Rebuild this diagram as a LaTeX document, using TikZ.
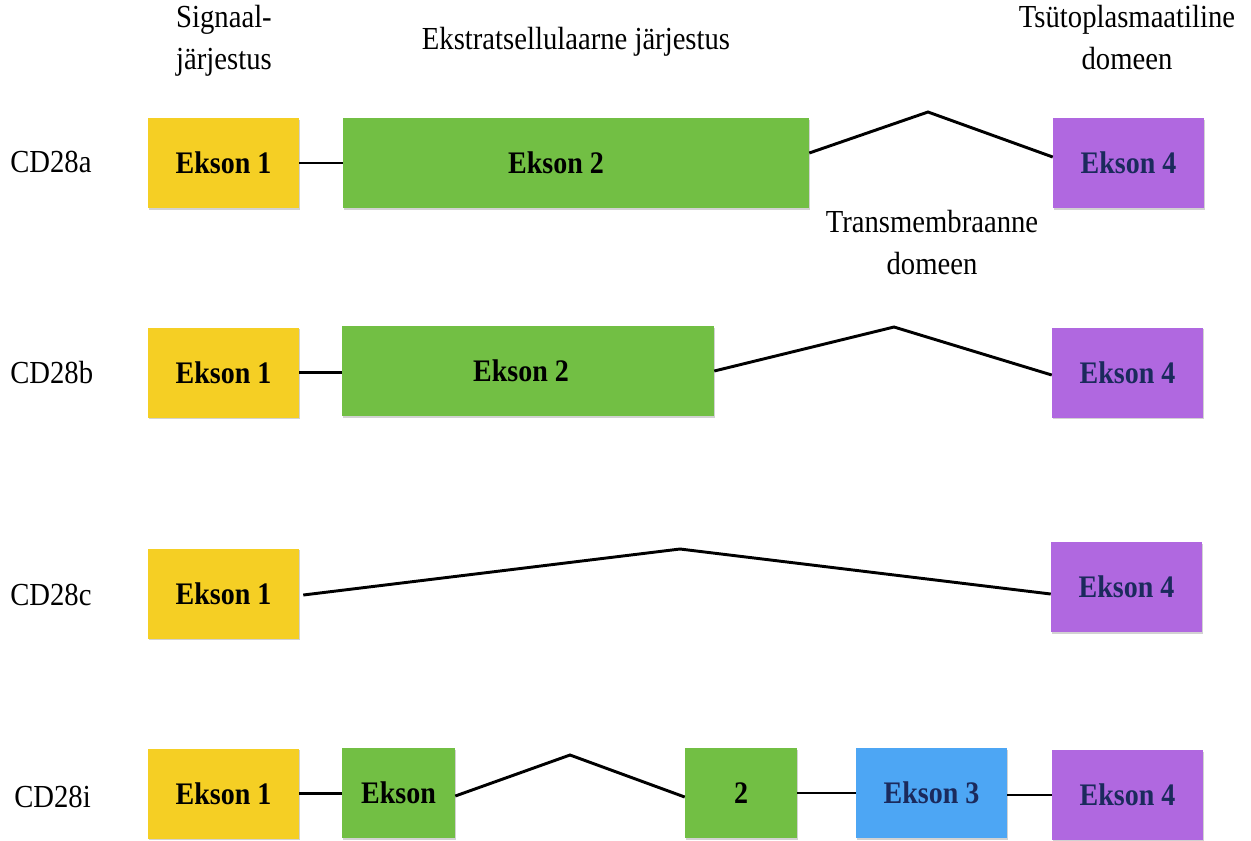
\documentclass[tikz,border=0pt]{standalone}
\usepackage{fontspec}
\setmainfont{Liberation Serif}
\usetikzlibrary{shadows,calc}
\definecolor{cyel}{HTML}{F5CF24}
\definecolor{cgrn}{HTML}{72BF44}
\definecolor{cpur}{HTML}{B068E0}
\definecolor{cblu}{HTML}{4DA6F4}
\definecolor{cnavy}{HTML}{1B2A5C}
\newcommand{\tallt}[1]{\scalebox{1}[1.12]{#1}}
\tikzset{
  exon/.style={draw=none, inner sep=0pt, minimum height=67.5pt, minimum width=113.25pt,
    font=\fontsize{21}{24}\selectfont\bfseries,
    drop shadow={shadow xshift=0.8pt, shadow yshift=-1.2pt, fill=black!35, opacity=0.5}},
  yb/.style={exon, fill=cyel, text=black},
  gb/.style={exon, fill=cgrn, text=black},
  pb/.style={exon, fill=cpur, text=cnavy},
  bb/.style={exon, fill=cblu, text=cnavy},
  lbl/.style={font=\fontsize{21.5}{26}\selectfont, inner sep=0pt},
  hdr/.style={font=\fontsize{21.5}{28}\selectfont, inner sep=0pt, align=center},
  conn/.style={line width=2.2pt, black}
}
\begin{document}
\begin{tikzpicture}[x=0.75pt,y=-0.75pt]
\useasboundingbox (0,0) rectangle (1251,840);
% headers
\node[hdr] (h1) at (224,40) {\tallt{\begin{tabular}{@{}c@{}}Signaal-\\järjestus\end{tabular}}};
\node[hdr] (h2) at (576,42) {\tallt{Ekstratsellulaarne järjestus}};
\node[hdr] (h3) at (1127,40) {\tallt{\begin{tabular}{@{}c@{}}Tsütoplasmaatiline\\domeen\end{tabular}}};
\node[hdr] (h4) at (932,245) {\tallt{\begin{tabular}{@{}c@{}}Transmembraanne\\domeen\end{tabular}}};
% row labels
\node[lbl, anchor=west] (la) at (10,162) {\tallt{CD28a}};
\node[lbl, anchor=west] (lb) at (10,373) {\tallt{CD28b}};
\node[lbl, anchor=west] (lc) at (10,595) {\tallt{CD28c}};
\node[lbl, anchor=west] (li) at (14,797) {\tallt{CD28i}};
% row a
\node[yb] (E1a) at (223.5,163) {\tallt{Ekson 1}};
\node[gb, minimum width=349.5pt] (E2a) at (576,163) {\tallt{Ekson 2}\hspace*{30pt}};
\node[pb] (E4a) at (1128.5,163) {\tallt{Ekson 4}};
\coordinate (pa) at (928,112);
\draw[conn] (E1a.east) -- (E2a.west);
\draw[conn] ($(E2a.east)+(0,-10)$) -- (pa) -- ($(E4a.west)+(0,-6)$);
% row b
\node[yb] (E1b) at (223.5,372.5) {\tallt{Ekson 1}};
\node[gb, minimum width=279pt] (E2b) at (528,371) {\tallt{Ekson 2}\hspace*{10.5pt}};
\node[pb] (E4b) at (1127.5,372.5) {\tallt{Ekson 4}};
\coordinate (pb) at (894,327);
\draw[conn] (E1b.east) -- (E1b.east -| E2b.west);
\draw[conn] (E2b.east) -- (pb) -- ($(E4b.west)+(0,2.5)$);
% row c
\node[yb] (E1c) at (223.5,593.5) {\tallt{Ekson 1}};
\node[pb] (E4c) at (1126.5,587) {\tallt{Ekson 4}};
\coordinate (pc) at (680,549);
\draw[conn] ($(E1c.east)+(4,1.5)$) -- (pc) -- ($(E4c.west)+(0,7)$);
% row i
\node[yb] (E1i) at (223.5,793.5) {\tallt{Ekson 1}};
\node[gb, minimum width=84.75pt] (Eki) at (398.5,793) {\tallt{Ekson}};
\node[gb, minimum width=84pt] (E2i) at (741,793) {\tallt{2}};
\node[bb] (E3i) at (931.5,793) {\tallt{Ekson 3}};
\node[pb] (E4i) at (1127.5,795) {\tallt{Ekson 4}};
\coordinate (pi) at (570,755);
\draw[conn] (E1i.east) -- (E1i.east -| Eki.west);
\draw[conn] ($(Eki.east)+(0,3)$) -- (pi) -- ($(E2i.west)+(0,4)$);
\draw[conn] (E2i.east) -- (E3i.west);
\draw[conn] (E3i.east |- E4i.west) -- (E4i.west);
\end{tikzpicture}
\end{document}
